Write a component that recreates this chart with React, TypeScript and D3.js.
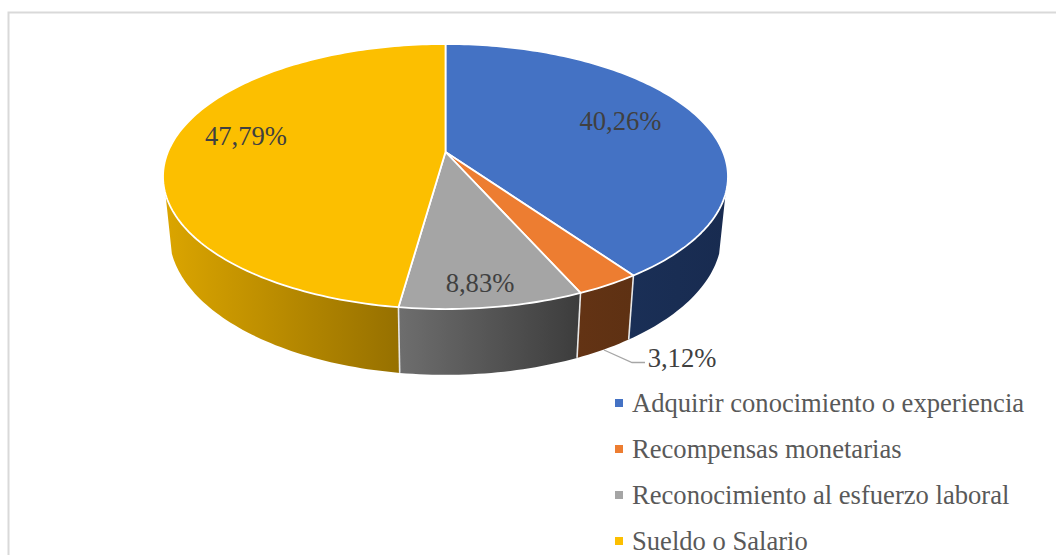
import React from 'react';
import * as d3 from 'd3';

const categories = ['Adquirir conocimiento o experiencia', 'Recompensas monetarias', 'Reconocimiento al esfuerzo laboral', 'Sueldo o Salario'];
const shares = [40.26, 3.12, 8.83, 47.79];
const shareLabels = ['40,26%', '3,12%', '8,83%', '47,79%'];
const topColors = ['#4472c4', '#ed7d31', '#a5a5a5', '#fcbf00'];
const sideFrom = ['#1a2f56', '#633314', '#6e6e6e', '#dba500'];
const sideTo = ['#182b50', '#5e3113', '#3c3c3c', '#967000'];

const W = 1056;
const H = 555;

// perspective of the disc, fitted on the slice corners of the picture
const cx = 445.5;
const apexY = 152;
const B = 277.6;
const A = 128;
const k = -0.185;
const depthW = 0.022;
const depthY = 58.5;

// t = 0 top face, t = 1 bottom face. angle is clockwise from 12 o'clock
function project(angle: number, t: number): [number, number] {
  const u = Math.sin(angle);
  const v = -Math.cos(angle);
  const w = 1 + k * v + depthW * t;
  return [cx + (B * u) / w, apexY + (A * v + depthY * t) / w];
}

const line = d3.line();
const arcPoints = (a0: number, a1: number, t: number) => {
  const n = Math.max(2, Math.ceil(Math.abs(a1 - a0) / 0.02));
  return d3.range(n + 1).map((i) => project(a0 + ((a1 - a0) * i) / n, t));
};

// front of the disc only, the rest of the wall is behind the top face
const frontStart = (108 * Math.PI) / 180;
const frontEnd = (252 * Math.PI) / 180;

const pie = d3.pie<number>().sort(null).value((d) => d);
const slices = pie(shares);

const labelPos = [
  [620.5, 130],
  [682, 367],
  [480, 292],
  [246, 145],
];
const legendY = d3.scalePoint<string>().domain(categories).range([412, 550]);

export default function App() {
  return (
    <svg
      width={W}
      height={H}
      viewBox={`0 0 ${W} ${H}`}
      style={{ position: 'absolute', left: 0, top: 0, fontFamily: '"Liberation Serif"' }}
    >
      <rect width={W} height={H} fill="#fff" />
      <path d={`M1056 12.5H8.5V555`} fill="none" stroke="#d9d9d9" strokeWidth={2} />
      <defs>
        {slices.map((s, i) => (
          <linearGradient key={i} id={`side${i}`} x1="0" x2="1" y1="0" y2="0">
            <stop offset="0" stopColor={sideFrom[i]} />
            <stop offset="1" stopColor={sideTo[i]} />
          </linearGradient>
        ))}
      </defs>

      {/* walls */}
      {slices.map((s, i) => {
        const a0 = Math.max(s.startAngle, frontStart);
        const a1 = Math.min(s.endAngle, frontEnd);
        const pts = [...arcPoints(a0, a1, 0), ...arcPoints(a1, a0, 1)];
        return <path key={i} d={line(pts) + 'Z'} fill={`url(#side${i})`} />;
      })}
      {/* wall dividers */}
      {slices.slice(0, 3).map((s, i) => (
        <path
          key={i}
          d={line([project(s.endAngle, 0), project(s.endAngle, 1)]) as string}
          stroke="#e8e8e8"
          strokeWidth={1.6}
          fill="none"
        />
      ))}

      {/* top faces */}
      {slices.map((s, i) => {
        const pts = [[cx, apexY] as [number, number], ...arcPoints(s.startAngle, s.endAngle, 0)];
        return (
          <path
            key={i}
            d={line(pts) + 'Z'}
            fill={topColors[i]}
            stroke="#fff"
            strokeWidth={1.8}
            strokeLinejoin="round"
          />
        );
      })}

      {/* leader of the small slice */}
      <path d="M604 350L632 362.5H645" fill="none" stroke="#a6a6a6" strokeWidth={1.3} />

      {shareLabels.map((t, i) => (
        <text
          key={t}
          x={labelPos[i][0]}
          y={labelPos[i][1]}
          textAnchor="middle"
          fontSize={26.6}
          fill="#404040"
        >
          {t}
        </text>
      ))}

      {categories.map((c, i) => (
        <g key={c}>
          <rect x={615} y={(legendY(c) as number) - 13} width={8} height={8} fill={topColors[i]} />
          <text x={632} y={legendY(c)} fontSize={26.6} fill="#595959">
            {c}
          </text>
        </g>
      ))}
    </svg>
  );
}
